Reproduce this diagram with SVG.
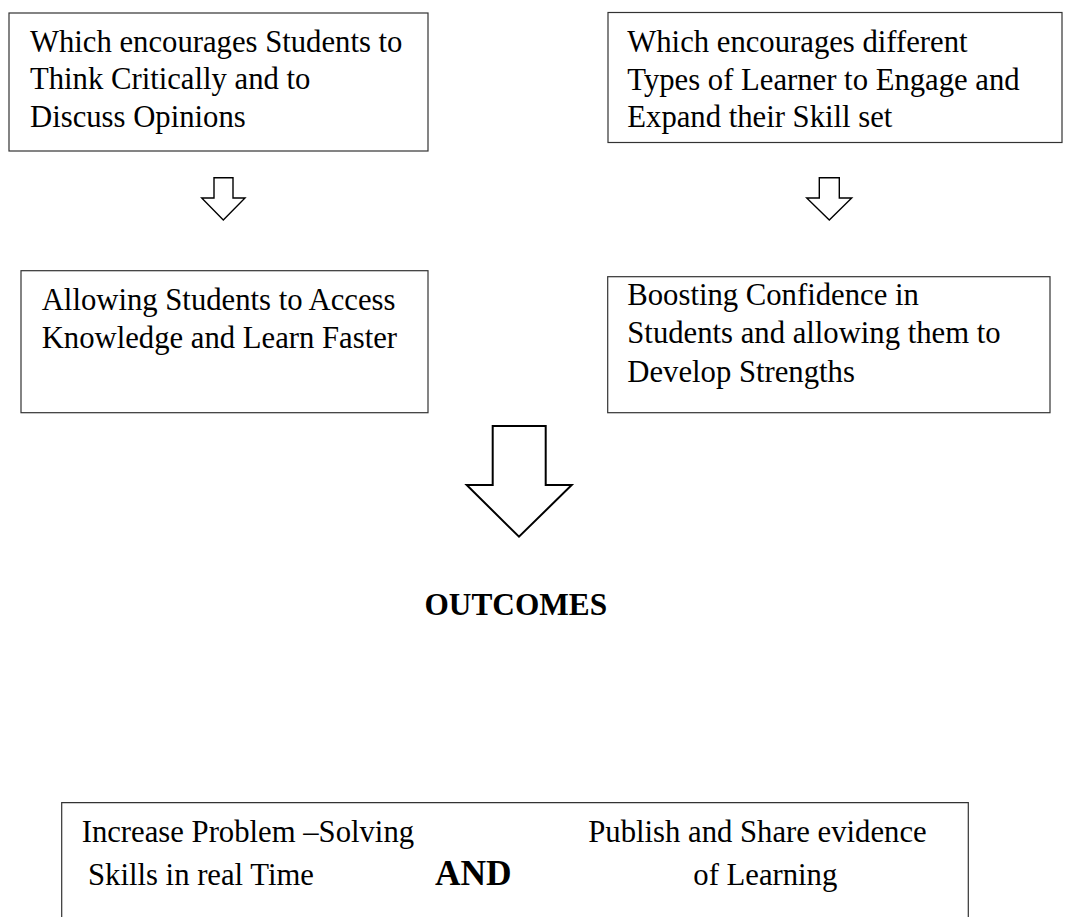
<svg xmlns="http://www.w3.org/2000/svg" width="1075" height="917" viewBox="0 0 1075 917">
<style>
.box{fill:#fff;stroke:#333;stroke-width:1.2}
.t{font-family:"Liberation Serif","Times New Roman",serif;font-size:30.7px;fill:#000}
.b{font-family:"Liberation Serif","Times New Roman",serif;font-weight:bold;fill:#000}
.arr{fill:#fff;stroke:#000;stroke-width:1.4;stroke-linejoin:miter}
.big{fill:#fff;stroke:#000;stroke-width:2;stroke-linejoin:miter}
</style>
<rect width="1075" height="917" fill="#fff"/>
<g id="node-critical">
<rect class="box" x="9" y="13" width="419" height="138"/>
<text class="t" x="30" y="51.7">Which encourages Students to</text>
<text class="t" x="30" y="89">Think Critically and to</text>
<text class="t" x="30" y="126.5">Discuss Opinions</text>
</g>
<g id="node-learners">
<rect class="box" x="608" y="12.5" width="454" height="130"/>
<text class="t" x="627.3" y="51.7">Which encourages different</text>
<text class="t" x="627.3" y="89.5">Types of Learner to Engage and</text>
<text class="t" x="627.3" y="126.5">Expand their Skill set</text>
</g>
<g id="node-access">
<rect class="box" x="21" y="270.7" width="407" height="142"/>
<text class="t" x="41.7" y="310">Allowing Students to Access</text>
<text class="t" x="41.7" y="348.3">Knowledge and Learn Faster</text>
</g>
<g id="node-confidence">
<rect class="box" x="607.7" y="276.7" width="442.3" height="136"/>
<text class="t" x="627.3" y="305">Boosting Confidence in</text>
<text class="t" x="627.3" y="343">Students and allowing them to</text>
<text class="t" x="627.3" y="381.5">Develop Strengths</text>
</g>
<g id="connectors">
<polygon class="arr" points="214,177.7 233,177.7 233,198 245,198 223.3,220 201.7,198 214,198"/>
<polygon class="arr" points="819.3,177.7 839.3,177.7 839.3,198 851.7,198 829.3,220 806.7,198 819.3,198"/>
<polygon class="big" points="492.7,426 545.7,426 545.7,485 571.7,485 519,536.7 466.7,485 492.7,485"/>
</g>
<g id="label-outcomes">
<text class="b" x="424.5" y="615" font-size="31.3">OUTCOMES</text>
</g>
<g id="node-outcomes">
<path class="box" d="M61.7,917 V802.7 H968.3 V917"/>
<text class="t" x="81.7" y="841.7">Increase Problem –Solving</text>
<text class="t" x="88" y="885">Skills in real Time</text>
<text class="b" x="435" y="885" font-size="35.4">AND</text>
<text class="t" x="588.3" y="841.7">Publish and Share evidence</text>
<text class="t" x="693.3" y="885">of Learning</text>
</g>
</svg>
